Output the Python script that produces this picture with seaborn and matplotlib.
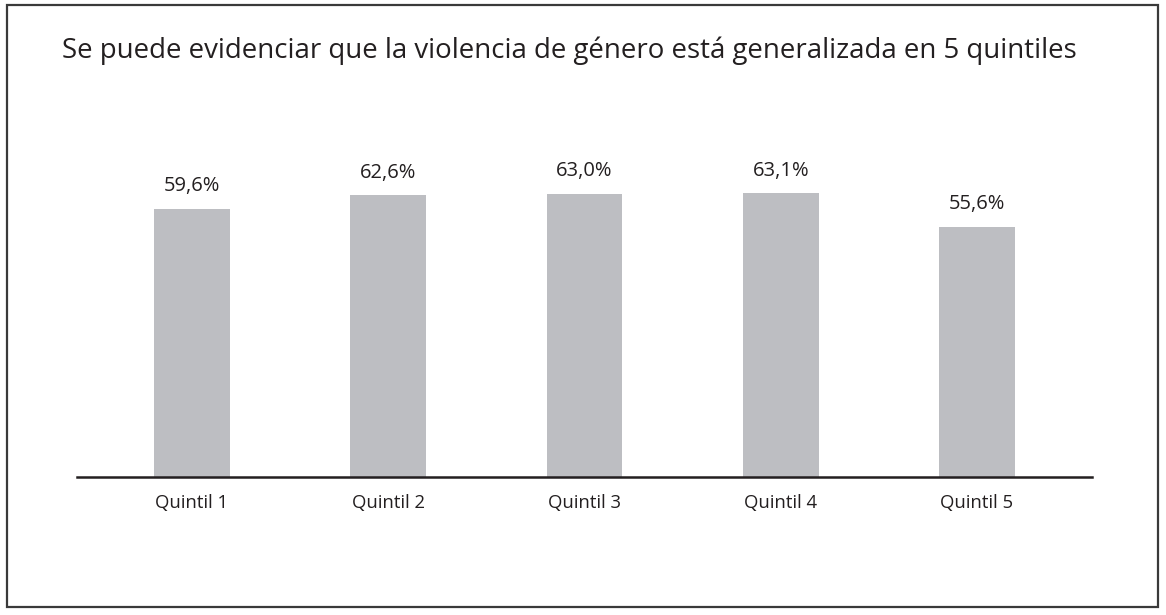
import matplotlib
matplotlib.use("Agg")
import matplotlib.pyplot as plt
import seaborn as sns
import pandas as pd
from matplotlib.patches import Rectangle

categories = ["Quintil 1", "Quintil 2", "Quintil 3", "Quintil 4", "Quintil 5"]
values = [59.6, 62.6, 63.0, 63.1, 55.6]
title = "Se puede evidenciar que la violencia de género está generalizada en 5 quintiles"

sns.set_theme(style="white")
plt.rcParams['font.family'] = ['Open Sans', 'DejaVu Sans']

df = pd.DataFrame({"cat": categories, "val": values})

W, H = 1166, 615
fig = plt.figure(figsize=(W / 100, H / 100), dpi=100)
ax = fig.add_axes([77 / W, 1 - 477 / H, (1092 - 77) / W, (477 - 162) / H])

sns.barplot(data=df, x="cat", y="val", color="#BDBEC2", width=0.387,
            saturation=1, ax=ax, errorbar=None, linewidth=0)
ax.set_ylim(0, 70)
ax.set_xlim(-0.586, 4.586)

labels = [f"{v:.1f}%".replace(".", ",") for v in values]
ax.bar_label(ax.containers[0], labels=labels, padding=9, fontsize=14.5, color="#231F20")

for s in ["top", "right", "left"]:
    ax.spines[s].set_visible(False)
ax.spines["bottom"].set_color("#231F20")
ax.spines["bottom"].set_linewidth(1.8)
ax.set_yticks([])
ax.set_xlabel("")
ax.set_ylabel("")
ax.tick_params(axis="x", length=0, pad=12, labelsize=13.3, labelcolor="#231F20")

fig.text(569 / W, 1 - 51 / H, title, ha="center", va="center", fontsize=19.9, color="#231F20")

fig.patches.append(Rectangle((7 / W, 1 - 607 / H), (1158 - 7) / W, (607 - 5) / H,
                             transform=fig.transFigure, fill=False,
                             edgecolor="#3A3A3A", linewidth=1.6))

fig.savefig("out.png", dpi=100, facecolor="white")
